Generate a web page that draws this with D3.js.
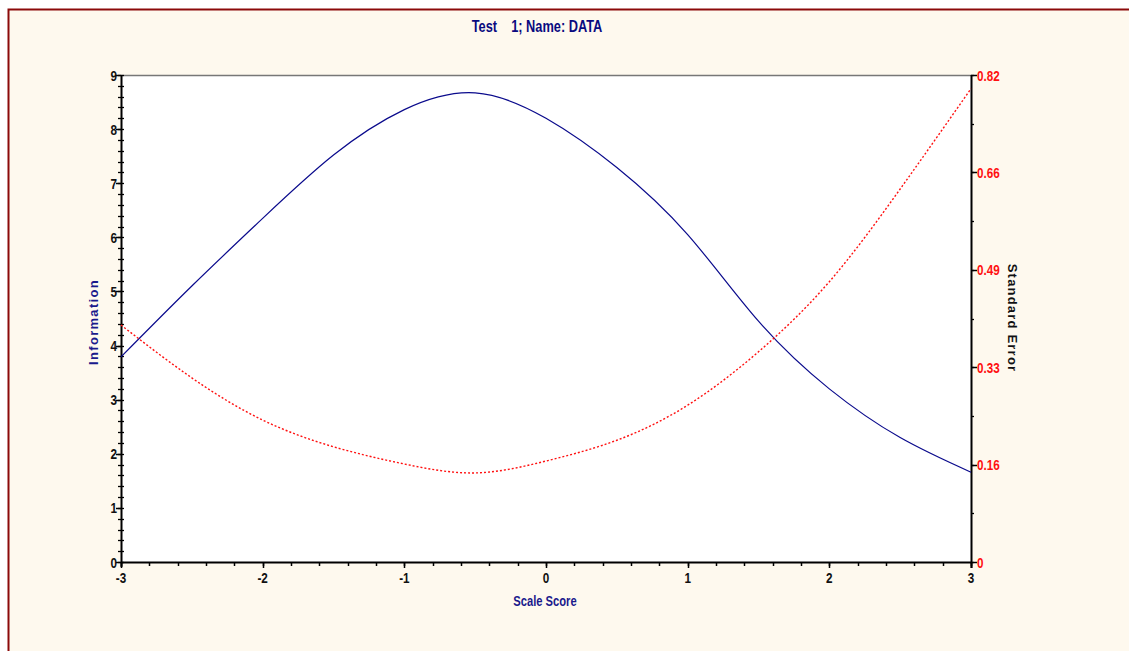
<!DOCTYPE html>
<html>
<head>
<meta charset="utf-8">
<title>Test 1; Name: DATA</title>
<script src="https://cdnjs.cloudflare.com/ajax/libs/d3/7.8.5/d3.min.js"></script>
<style>
html, body { margin:0; padding:0; background:#fff; }
svg text { font-family: "Liberation Sans", Arial, sans-serif; font-weight:bold; }
</style>
</head>
<body>
<svg id="chart" width="1129" height="651"></svg>
<script>
// values
var scaleScore  = [-3, -2.5, -2, -1.5, -1, -0.5, 0, 0.5, 1, 1.5, 2, 2.5, 3];
var information = [3.79, 5.10, 6.35, 7.52, 8.36, 8.67, 8.20, 7.29, 6.05, 4.45, 3.20, 2.30, 1.66];
var stdError    = [0.399, 0.310, 0.239, 0.194, 0.165, 0.150, 0.170, 0.205, 0.264, 0.354, 0.472, 0.628, 0.797];
var seTicks     = [0, 0.16, 0.33, 0.49, 0.66, 0.82];

var svg = d3.select("#chart");
var narrow = 0.78; // squeeze text, no narrow font installed

// page background + dark red frame
svg.append("rect").attr("x", 8.5).attr("y", 9.5).attr("width", 1130).attr("height", 700)
  .attr("fill", "#fef9ee").attr("stroke", "#8b0a0a").attr("stroke-width", 2);

var pL = 121, pR = 971, pT = 75, pB = 562;

var x = d3.scaleLinear().domain([-3, 3]).range([pL, pR]);
var yL = d3.scaleLinear().domain([0, 9]).range([pB, pT]);
var yR = d3.scaleLinear().domain([0, 0.82]).range([pB, pT]);

function label(g, tx, ty, str, anchor, size, fill) {
  return g.append("text")
    .attr("transform", "translate(" + tx + "," + ty + ") scale(" + narrow + ",1)")
    .attr("text-anchor", anchor).attr("font-size", size).attr("fill", fill)
    .text(str);
}

// plot area
svg.append("rect").attr("x", pL).attr("y", pT).attr("width", pR - pL).attr("height", pB - pT)
  .attr("fill", "#fff");
svg.append("line").attr("x1", pL).attr("x2", pR).attr("y1", pT + 0.5).attr("y2", pT + 0.5)
  .attr("stroke", "#777").attr("stroke-width", 1.5);

// left axis: minor ticks crossing the line, major ticks outside
var gL = svg.append("g");
gL.selectAll(".minor").data(d3.range(0, 9.01, 0.2)).enter().append("line")
  .attr("x1", pL - 3).attr("x2", pL + 3)
  .attr("y1", function(d){ return Math.round(yL(d)) + 0.5; })
  .attr("y2", function(d){ return Math.round(yL(d)) + 0.5; })
  .attr("stroke", "#000").attr("stroke-width", 1.3);
gL.selectAll(".major").data(d3.range(0, 10)).enter().append("line")
  .attr("x1", pL - 5).attr("x2", pL)
  .attr("y1", function(d){ return Math.round(yL(d)) + 0.5; })
  .attr("y2", function(d){ return Math.round(yL(d)) + 0.5; })
  .attr("stroke", "#000").attr("stroke-width", 1.5);
d3.range(0, 10).forEach(function(d){
  label(gL, pL - 4, yL(d) + 5.5, String(d), "end", 15, "#111");
});
gL.append("line").attr("x1", pL + 0.5).attr("x2", pL + 0.5).attr("y1", pT).attr("y2", pB + 5)
  .attr("stroke", "#000").attr("stroke-width", 2);

// bottom axis
var gB = svg.append("g");
gB.selectAll(".minor").data(d3.range(-3, 3.01, 0.2)).enter().append("line")
  .attr("x1", function(d){ return Math.round(x(d)) + 0.5; })
  .attr("x2", function(d){ return Math.round(x(d)) + 0.5; })
  .attr("y1", pB).attr("y2", pB + 4)
  .attr("stroke", "#000").attr("stroke-width", 1.5);
gB.selectAll(".major").data(d3.range(-3, 4)).enter().append("line")
  .attr("x1", function(d){ return Math.round(x(d)) + 0.5; })
  .attr("x2", function(d){ return Math.round(x(d)) + 0.5; })
  .attr("y1", pB).attr("y2", pB + 6)
  .attr("stroke", "#000").attr("stroke-width", 1.5);
d3.range(-3, 4).forEach(function(d){
  label(gB, x(d), pB + 21, String(d), "middle", 15, "#111");
});
gB.append("line").attr("x1", pL).attr("x2", pR).attr("y1", pB + 0.5).attr("y2", pB + 0.5)
  .attr("stroke", "#000").attr("stroke-width", 2);

// right axis
var gR = svg.append("g");
var seMinor = d3.range(0, 11).map(function(i){ return 0.82 * i / 10; });
gR.selectAll(".minor").data(seMinor).enter().append("line")
  .attr("x1", pR).attr("x2", pR + 3)
  .attr("y1", function(d){ return Math.round(yR(d)) + 0.5; })
  .attr("y2", function(d){ return Math.round(yR(d)) + 0.5; })
  .attr("stroke", "#000").attr("stroke-width", 1.3);
gR.selectAll(".major").data(seTicks).enter().append("line")
  .attr("x1", pR).attr("x2", pR + 6)
  .attr("y1", function(d, i){ return Math.round(yR(0.82 * i / 5)) + 0.5; })
  .attr("y2", function(d, i){ return Math.round(yR(0.82 * i / 5)) + 0.5; })
  .attr("stroke", "#000").attr("stroke-width", 1.5);
seTicks.forEach(function(d, i){
  label(gR, pR + 6, yR(0.82 * i / 5) + 5.5, String(d), "start", 15, "#ff1010");
});
gR.append("line").attr("x1", pR + 0.5).attr("x2", pR + 0.5).attr("y1", pT).attr("y2", pB + 6)
  .attr("stroke", "#000").attr("stroke-width", 2);

// curves
var infoLine = d3.line().curve(d3.curveNatural)
  .x(function(d, i){ return x(scaleScore[i]); })
  .y(function(d){ return yL(d); });
var seLine = d3.line().curve(d3.curveNatural)
  .x(function(d, i){ return x(scaleScore[i]); })
  .y(function(d){ return yR(d); });

svg.append("path").attr("d", infoLine(information))
  .attr("fill", "none").attr("stroke", "#0a0a8c").attr("stroke-width", 1.2);
svg.append("path").attr("d", seLine(stdError))
  .attr("fill", "none").attr("stroke", "#ff1010").attr("stroke-width", 1.4)
  .attr("stroke-dasharray", "2,2");

// titles
svg.append("text").attr("transform", "translate(537,32) scale(0.8,1)").attr("text-anchor", "middle")
  .attr("font-size", 16).attr("fill", "#0a0a80").style("white-space", "pre")
  .text("Test    1; Name: DATA");
svg.append("text").attr("transform", "translate(545,606) scale(0.8,1)").attr("text-anchor", "middle")
  .attr("font-size", 14).attr("fill", "#1a1a8c").text("Scale Score");
svg.append("text").attr("transform", "translate(98,322) rotate(-90)").attr("text-anchor", "middle")
  .attr("font-size", 13).attr("fill", "#1a1a8c").attr("letter-spacing", 1.3).text("Information");
svg.append("text").attr("transform", "translate(1008,318) rotate(90)").attr("text-anchor", "middle")
  .attr("font-size", 13).attr("fill", "#111").attr("letter-spacing", 1.2).text("Standard Error");
</script>
</body>
</html>
